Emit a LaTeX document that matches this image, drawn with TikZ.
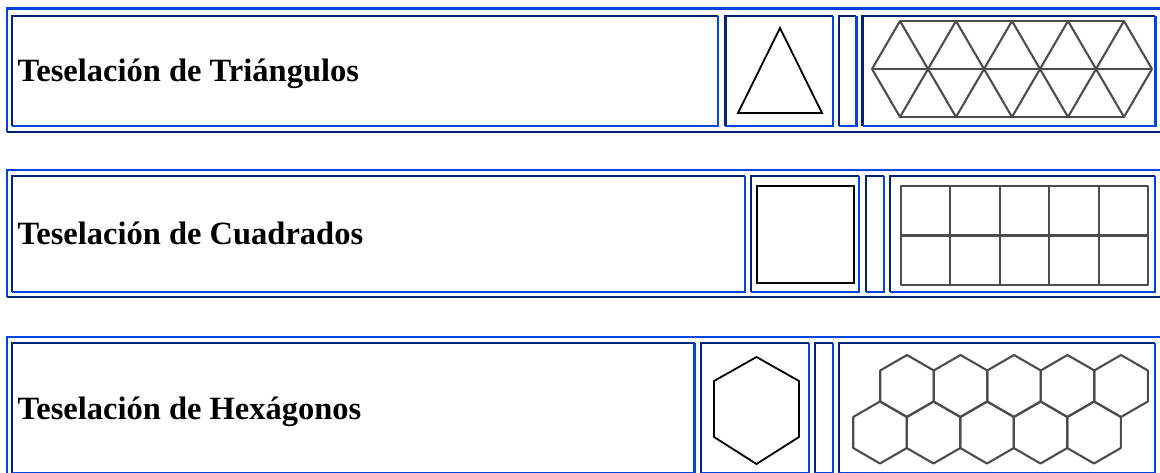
\documentclass[tikz,border=0pt]{standalone}
\usepackage{fontspec}
\setmainfont{Liberation Serif}
\definecolor{rimlight}{RGB}{0,70,222}
\definecolor{rimdark}{RGB}{0,36,122}

% bevelled HTML-like frame: x1,y1,x2,y2, top/left colour, bottom/right colour
\newcommand\bevelbox[6]{%
  \draw[rim,#5] (#1,#4) -- (#1,#2) -- (#3,#2);
  \draw[rim,#6] (#3,#2) -- (#3,#4) -- (#1,#4);
}
% one hexagon of the honeycomb, centre x,y
\newcommand\hexcell[2]{%
  \draw[tess] (#1,{#2-31}) -- ({#1+26.8},{#2-15.5}) -- ({#1+26.8},{#2+15.5})
    -- (#1,{#2+31}) -- ({#1-26.8},{#2+15.5}) -- ({#1-26.8},{#2-15.5}) -- cycle;
}

\begin{document}
\begin{tikzpicture}[
      x=1pt, y=-1pt,
      rim/.style={line width=2.9pt},
      tile/.style={line width=1.8pt, line join=miter},
      tess/.style={line width=2.1pt, black!70, line join=round},
      title/.style={anchor=base west, inner sep=0pt,
                    font=\fontsize{32.5}{38}\selectfont\bfseries},
    ]
  \useasboundingbox (0,0) rectangle (1160,472);
  \clip (0,0) rectangle (1160,472);

  % table 1: triangles
  \bevelbox{7}{8.5}{1162}{132}{rimlight}{rimdark}
  \bevelbox{12}{16}{718}{126}{rimdark}{rimlight}
  \bevelbox{725.3}{16}{833}{126}{rimdark}{rimlight}
  \bevelbox{839}{16}{856.3}{126}{rimdark}{rimlight}
  \bevelbox{862.7}{16}{1155.3}{126}{rimdark}{rimlight}
  \node[title] (tri) at (17.5,81.7) {Teselación de Triángulos};
  \draw[tile] (738,113) -- (780,28) -- (822,113) -- cycle;
  \draw[tess] (900,21) -- (1124,21);
  \draw[tess] (872,69) -- (1152,69);
  \draw[tess] (900,117) -- (1124,117);
  \foreach \k in {0,...,4} {
    \draw[tess] ({872+56*\k},69) -- ({900+56*\k},21) -- ({928+56*\k},69);
    \draw[tess] ({872+56*\k},69) -- ({900+56*\k},117) -- ({928+56*\k},69);
  }

  % table 2: squares
  \bevelbox{7}{170}{1162}{297}{rimlight}{rimdark}
  \bevelbox{12}{176}{745}{292}{rimdark}{rimlight}
  \bevelbox{751}{176}{859}{292}{rimdark}{rimlight}
  \bevelbox{866}{176}{884}{292}{rimdark}{rimlight}
  \bevelbox{890}{176}{1155}{292}{rimdark}{rimlight}
  \node[title] (sq) at (17.5,244.7) {Teselación de Cuadrados};
  \draw[tile] (757,186) rectangle (854,283);
  \draw[tess] (901,186) rectangle (1148,285);
  \draw[tess] (901,235.5) -- (1148,235.5);
  \foreach \k in {1,...,4}
    \draw[tess] ({901+49.4*\k},186) -- ({901+49.4*\k},285);

  % table 3: hexagons
  \bevelbox{7}{337}{1162}{479}{rimlight}{rimdark}
  \bevelbox{12}{343}{694.5}{473}{rimdark}{rimlight}
  \bevelbox{701}{343}{809}{473}{rimdark}{rimlight}
  \bevelbox{815}{343}{833}{473}{rimdark}{rimlight}
  \bevelbox{839}{343}{1155}{473}{rimdark}{rimlight}
  \node[title] (hx) at (17.5,419) {Teselación de Hexágonos};
  \draw[tile] (756.5,357) -- (799,381) -- (799,437) -- (756.5,464)
    -- (714,437) -- (714,381) -- cycle;
  \foreach \k in {0,...,4} {
    \hexcell{907+53.5*\k}{386}
    \hexcell{880+53.5*\k}{432.5}
  }
\end{tikzpicture}
\end{document}
